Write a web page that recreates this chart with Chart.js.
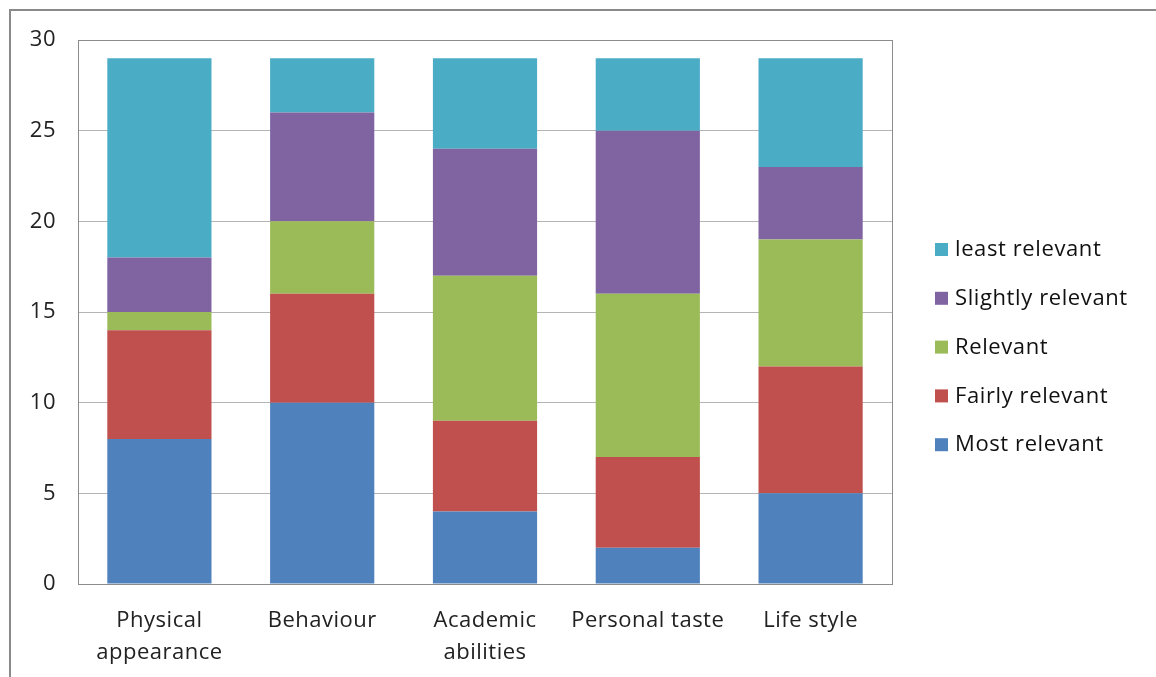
<!DOCTYPE html>
<html>
<head>
<meta charset="utf-8">
<script src="https://cdn.jsdelivr.net/npm/chart.js@4.4.1/dist/chart.umd.min.js"></script>
<style>
  html, body { margin: 0; padding: 0; background: #fff; }
  #wrap { position: relative; width: 1156px; height: 677px; overflow: hidden; }
  #frame { position: absolute; left: 9px; top: 9px; width: 1200px; height: 700px;
           border-left: 2px solid #8a8a8a; border-top: 2px solid #8a8a8a; }
  canvas { position: absolute; left: 0; top: 0; }
</style>
</head>
<body>
<div id="wrap">
  <div id="frame"></div>
  <canvas id="c" width="1156" height="677"></canvas>
</div>
<script>
const categories = [
  ['Physical', 'appearance'],
  'Behaviour',
  ['Academic', 'abilities'],
  'Personal taste',
  'Life style'
];
const mostRelevant     = [8, 10, 4, 2, 5];
const fairlyRelevant   = [6, 6, 5, 5, 7];
const relevant         = [1, 4, 8, 9, 7];
const slightlyRelevant = [3, 6, 7, 9, 4];
const leastRelevant    = [11, 3, 5, 4, 6];
const yTicks = [0, 5, 10, 15, 20, 25, 30];

const FONT = '"Open Sans", Lato, sans-serif';

// Slightly looser text tracking for all labels
const spacingPlugin = {
  id: 'tracking',
  beforeDraw(chart) { chart.ctx.letterSpacing = '0.5px'; }
};

// Plot frame plus a right-hand legend listing the series top-down
const framePlugin = {
  id: 'frameAndLegend',
  afterDraw(chart) {
    const { ctx, chartArea: a } = chart;
    ctx.save();
    ctx.strokeStyle = '#8c8c8c';
    ctx.lineWidth = 1;
    ctx.strokeRect(Math.round(a.left) + 0.5, Math.round(a.top) + 0.5,
                   Math.round(a.right - a.left), Math.round(a.bottom - a.top));
    const ds = chart.data.datasets.slice().reverse();
    const x0 = 935, yStart = 250, step = 48.8;
    ctx.font = '22px ' + FONT;
    ctx.letterSpacing = '0.6px';
    ctx.textBaseline = 'middle';
    ds.forEach((d, i) => {
      const y = yStart + i * step;
      ctx.fillStyle = d.backgroundColor;
      ctx.fillRect(x0, y - 7, 13, 13);
      ctx.fillStyle = '#111';
      ctx.fillText(d.label, x0 + 20, y);
    });
    ctx.restore();
  }
};

new Chart(document.getElementById('c'), {
  type: 'bar',
  data: {
    labels: categories,
    datasets: [
      { label: 'Most relevant',     data: mostRelevant,     backgroundColor: '#4F81BD' },
      { label: 'Fairly relevant',   data: fairlyRelevant,   backgroundColor: '#C0504D' },
      { label: 'Relevant',          data: relevant,         backgroundColor: '#9BBB59' },
      { label: 'Slightly relevant', data: slightlyRelevant, backgroundColor: '#8064A2' },
      { label: 'least relevant',    data: leastRelevant,    backgroundColor: '#4BACC6' }
    ]
  },
  options: {
    responsive: false,
    animation: false,
    events: [],
    layout: { padding: { left: 0, top: 40, right: 264, bottom: 0 } },
    datasets: { bar: { categoryPercentage: 1, barPercentage: 0.64, borderWidth: 0 } },
    plugins: { legend: { display: false }, tooltip: { enabled: false } },
    scales: {
      x: {
        stacked: true,
        grid: { display: false },
        border: { display: false },
        ticks: { color: '#222', font: { family: FONT, size: 22, lineHeight: 1.45 }, padding: 13, maxRotation: 0 },
        afterFit(s) { s.height = 93; }
      },
      y: {
        stacked: true,
        min: 0, max: 30,
        afterBuildTicks(s) { s.ticks = yTicks.map(v => ({ value: v })); },
        grid: { color: '#b4b4b4', lineWidth: 1, drawTicks: false },
        border: { display: false },
        ticks: { color: '#222', font: { family: FONT, size: 22 }, padding: 22 },
        afterFit(s) { s.width = 78; }
      }
    }
  },
  plugins: [spacingPlugin, framePlugin]
});
</script>
</body>
</html>
